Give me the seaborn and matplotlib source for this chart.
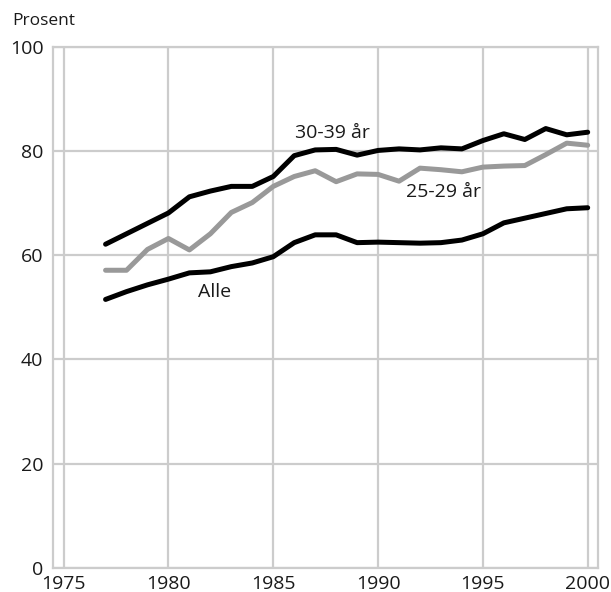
import pandas as pd
import matplotlib
matplotlib.use("Agg")
import matplotlib.pyplot as plt
import seaborn as sns

years = list(range(1977, 2001))
age_30_39 = [62.1, 64.1, 66.1, 68.1, 71.2, 72.3, 73.2, 73.2, 75.1, 79.1, 80.2, 80.3,
             79.2, 80.1, 80.4, 80.2, 80.6, 80.4, 82.0, 83.3, 82.2, 84.3, 83.1, 83.6]
age_25_29 = [57.1, 57.1, 61.1, 63.2, 61.0, 64.1, 68.2, 70.1, 73.2, 75.1, 76.2, 74.1,
             75.6, 75.5, 74.2, 76.7, 76.4, 76.0, 76.9, 77.1, 77.2, 79.3, 81.5, 81.1]
alle = [51.5, 53.0, 54.3, 55.4, 56.6, 56.8, 57.8, 58.5, 59.7, 62.4, 63.9, 63.9,
        62.4, 62.5, 62.4, 62.3, 62.4, 62.9, 64.1, 66.2, 67.1, 68.0, 68.9, 69.1]

series_names = ["30-39 år", "25-29 år", "Alle"]
series_colors = ["#000000", "#999999", "#000000"]

df = pd.DataFrame({"year": years, "30-39 år": age_30_39, "25-29 år": age_25_29, "Alle": alle})
long_df = df.melt(id_vars="year", var_name="gruppe", value_name="prosent")

sns.set_style("whitegrid", {"grid.color": "#cccccc", "axes.edgecolor": "#cccccc"})
plt.rcParams["font.family"] = ["Open Sans", "DejaVu Sans"]

fig = plt.figure(figsize=(6.11, 5.92), dpi=100)
ax = fig.add_axes([0.087, 0.041, 0.892, 0.880])

sns.lineplot(data=long_df, x="year", y="prosent", hue="gruppe", hue_order=series_names,
             palette=series_colors, linewidth=3.6, legend=False, ax=ax)

ax.set_xlim(1974.5, 2000.5)
ax.set_ylim(0, 100)
ax.set_xticks([1975, 1980, 1985, 1990, 1995, 2000])
ax.set_yticks([0, 20, 40, 60, 80, 100])
ax.tick_params(axis="both", length=0, labelsize=14, colors="#1a1a1a")
ax.tick_params(axis="x", pad=5)
ax.tick_params(axis="y", pad=7)
ax.grid(True, linewidth=1.6)
for spine in ax.spines.values():
    spine.set_linewidth(1.6)
ax.set_xlabel("")
ax.set_ylabel("")

ax.text(1987.8, 83.4, "30-39 år", fontsize=14, ha="center", va="center", color="#1a1a1a")
ax.text(1993.1, 72.1, "25-29 år", fontsize=14, ha="center", va="center", color="#1a1a1a")
ax.text(1982.2, 53.0, "Alle", fontsize=14, ha="center", va="center", color="#1a1a1a")

fig.text(0.02, 0.965, "Prosent", fontsize=12.5, ha="left", va="center", color="#1a1a1a")

fig.savefig("out.png", dpi=100)
